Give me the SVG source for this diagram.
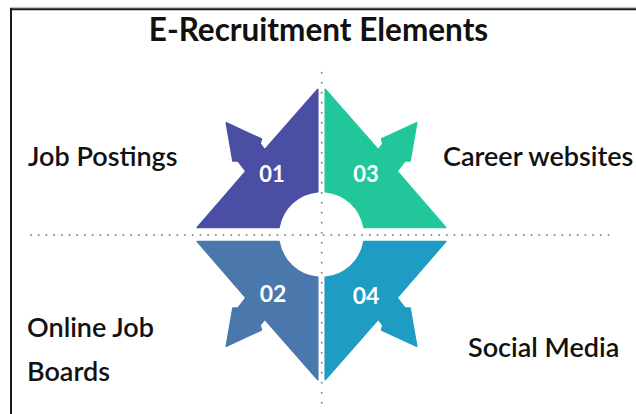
<svg xmlns="http://www.w3.org/2000/svg" width="636" height="414" viewBox="0 0 636 414">
<style>
.title{font-family:Lato,"Liberation Sans",sans-serif;font-weight:bold;font-size:31.5px;fill:#111;text-anchor:middle}
.lbl{font-family:Lato,"Liberation Sans",sans-serif;font-weight:600;font-size:27px;fill:#111}
.num{font-family:Lato,"Open Sans","Liberation Sans",sans-serif;font-weight:bold;fill:#fff;text-anchor:middle}
.dot{stroke:#8a8a8a;stroke-width:2;stroke-linecap:round;stroke-dasharray:0 7.7;fill:none}
.dotv{stroke:#8a8a8a;stroke-width:2;stroke-linecap:round;stroke-dasharray:0 10;fill:none}
</style>
<defs>
<path id="q" d="M -3.7,-145.2 L -56.8,-84.7 L -61.4,-90.7 L -60,-95.5 L -95.3,-111.8 L -88.6,-73.5 L -83.6,-73.6 L -75.6,-63.2 L -124.3,-7 L -42.4,-7 A 43 43 0 0 1 -3.7,-42.8 Z" stroke-linejoin="round" stroke-width="1.5"/>
</defs>
<rect width="636" height="414" fill="#fff"/>
<line x1="10" y1="7.4" x2="636" y2="7.4" stroke="#bbb" stroke-width="1"/>
<line x1="10" y1="9.2" x2="636" y2="9.2" stroke="#1a1a1a" stroke-width="2"/>
<line x1="11" y1="8.2" x2="11" y2="414" stroke="#1a1a1a" stroke-width="2"/>
<text class="title" x="318.5" y="41">E-Recruitment Elements</text>
<g id="connectors">
<line class="dot" x1="31" y1="235" x2="612" y2="235"/>
<line class="dotv" x1="321.7" y1="72.7" x2="321.7" y2="406"/>
</g>
<g id="n01">
<use href="#q" transform="translate(321.5,234.5)" fill="#4B4FA3" stroke="#4B4FA3"/>
<text class="num" x="272" y="182" font-size="22">01</text>
</g>
<g id="n03">
<use href="#q" transform="translate(321.5,234.5) scale(-1,1)" fill="#21C79A" stroke="#21C79A"/>
<text class="num" x="366" y="182" font-size="22">03</text>
</g>
<g id="n02">
<use href="#q" transform="translate(321.5,234.5) scale(1,-1)" fill="#4A78AD" stroke="#4A78AD"/>
<text class="num" x="273" y="302" font-size="23">02</text>
</g>
<g id="n04">
<use href="#q" transform="translate(321.5,234.5) scale(-1,-1)" fill="#1E9CC3" stroke="#1E9CC3"/>
<text class="num" x="366" y="304" font-size="23">04</text>
</g>
<g id="l01"><text class="lbl" x="28" y="166">Job Postings</text></g>
<g id="l03"><text class="lbl" x="443" y="166">Career websites</text></g>
<g id="l02"><text class="lbl" x="27" y="337">Online Job</text><text class="lbl" x="27" y="381">Boards</text></g>
<g id="l04"><text class="lbl" x="468" y="357">Social Media</text></g>
</svg>
